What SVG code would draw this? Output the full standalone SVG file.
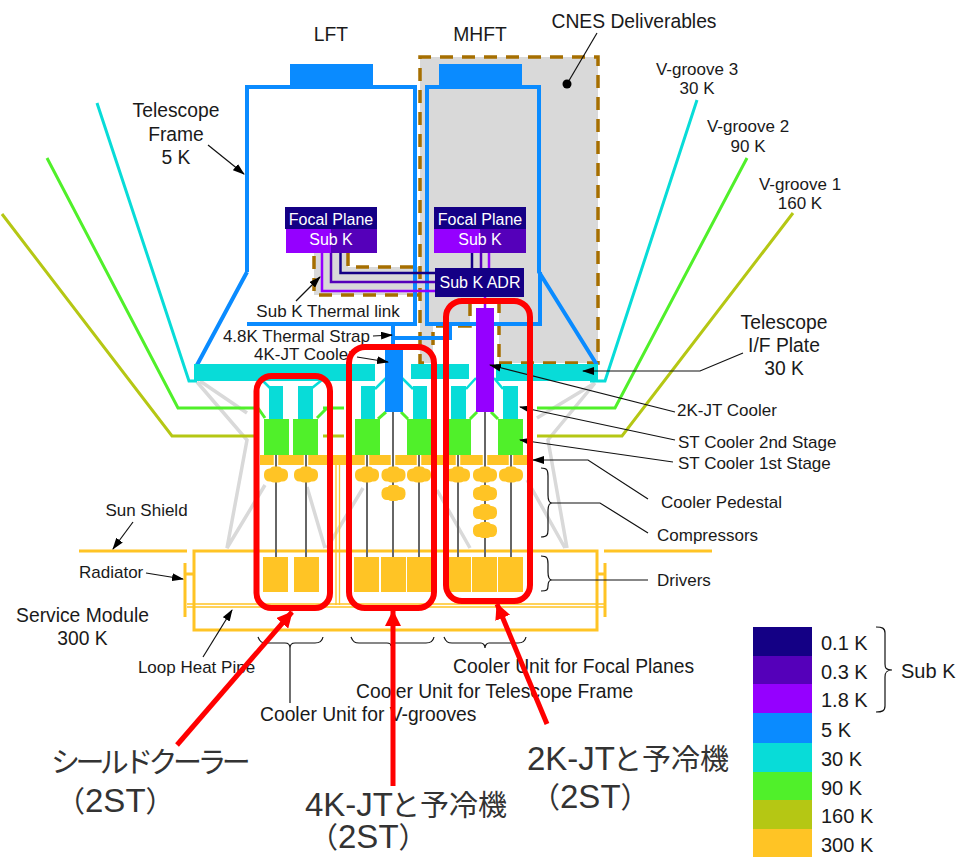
<svg xmlns="http://www.w3.org/2000/svg" xmlns:xlink="http://www.w3.org/1999/xlink" width="957" height="857" viewBox="0 0 957 857">
<style>
text{font-family:"Liberation Sans",Arial,sans-serif;fill:#1a1a1a;font-size:17px}
.m{text-anchor:middle}
.w{fill:#fff;font-size:16px}
.big{font-size:19.300px}
.leg{font-size:20px}
.jp{font-family:"Liberation Sans","Noto Sans CJK JP",sans-serif;font-size:33px;fill:#333}
.k{font-family:"Noto Sans CJK JP",sans-serif;font-size:29px;fill:#333}
.kana{letter-spacing:-4.600px}
.st{fill:none;stroke:#d9d9d9;stroke-width:3.500}
.dash{fill:none;stroke:#a66f00;stroke-width:3.500;stroke-dasharray:13 9}
.fr{fill:none;stroke:#0a8bff;stroke-width:4}
.v3{fill:none;stroke:#08dcd8;stroke-width:3}
.v2{fill:none;stroke:#50f02a;stroke-width:3}
.v1{fill:none;stroke:#b5c714;stroke-width:3}
.y{fill:none;stroke:#ffc425;stroke-width:3}
.yt{fill:none;stroke:#ffc425;stroke-width:1.300}
.case{fill:none;stroke:#fff;stroke-width:4.500}
.rod{fill:none;stroke:#666;stroke-width:2}
.dc{fill:none;stroke:#08dcd8;stroke-width:2.500}
.dg{fill:none;stroke:#50f02a;stroke-width:3}
.a{fill:none;stroke:#111;stroke-width:1.200;marker-end:url(#ah)}
.l{fill:none;stroke:#111;stroke-width:1.200}
.red{fill:none;stroke:#f00;stroke-width:6}
.ra{fill:none;stroke:#f00;stroke-width:5;marker-end:url(#rh)}
.c0{fill:#140085}.c1{fill:#5500ba}.c2{fill:#9500ff}.c3{fill:#0a8bff}.c4{fill:#08dcd8}.c5{fill:#50f02a}.c6{fill:#b5c714}.c7{fill:#ffc425}
</style>
<defs>
<marker id="ah" markerWidth="12" markerHeight="8" refX="11" refY="4" orient="auto" markerUnits="userSpaceOnUse"><path d="M0,0L12,4L0,8Z" fill="#000"/></marker>
<marker id="rh" markerWidth="16" markerHeight="16" refX="15" refY="8" orient="auto" markerUnits="userSpaceOnUse"><path d="M0,0L16,8L0,16Z" fill="#f00"/></marker>
<g id="comp"><rect x="-12" y="-6" width="24" height="13" rx="5.500" class="c7"/><rect x="-6" y="-8" width="12" height="16" rx="4" class="c7"/></g>
</defs>

<g id="cnes-area">
<path d="M420,57H598V363H499V300H470V326H433V363H420V295H314V253H348V267H420Z" fill="#d9d9d9"/>
<path class="dash" d="M499,363H598V57H420V363H429"/>
<path class="dash" d="M433,345V326H470V300M499,300V363"/>
<path class="dash" d="M348,253V267H416M420,295H314V253"/>
</g>

<g id="struts">
<path class="st" d="M200,381L247,413M197,382L247,440L227,548L265,485M307,487L325,548M363,488L327,548M437,490L470,548M527,480L565,548M595,383L537,418M595,383L548,440L567,548"/>
</g>

<g id="v-grooves">
<path class="v3" d="M97,103L189,381H197M697,100L605,381H590"/>
<path class="v2" d="M47,158L178,408H258M323,408H344M537,408H615L747,158"/>
<path class="v1" d="M2,214L172,436H254M323,436H344M537,436H622L793,213"/>
</g>

<g id="service-module">
<path class="y" d="M79,551H187M604,551H712"/>
<rect class="y" x="194" y="551" width="403" height="79"/>
<path class="y" d="M185,563V617M185,574H194M605,563V617M597,574H605"/>
<path class="yt" d="M187,604H604M187,607H604M336,465V605M339.500,465V605"/>
</g>

<g id="lft-telescope">
<rect class="c3" x="290" y="64" width="83" height="23"/>
<path class="fr" d="M247,272V87H415V324H247M247,272L197,365"/>
<path class="fr" d="M393,324V349M393,338H450V324"/>
</g>
<g id="mhft-telescope">
<rect class="c3" x="439" y="64" width="83" height="23"/>
<path class="fr" d="M540,272V324H427V87H539V272L597,365"/>
</g>

<g id="sub-k-links">
<path fill="none" stroke="#140085" stroke-width="2.500" d="M340.500,253V273H436M472,253V268"/>
<path fill="none" stroke="#5500ba" stroke-width="2.500" d="M331,253V282H436M481,253V268"/>
<path fill="none" stroke="#9500ff" stroke-width="2.500" d="M322,253V291H436M489,253V268M485,297V308"/>
</g>

<g id="focal-plane-lft">
<rect class="c0" x="285" y="207" width="92" height="22"/>
<rect class="c2" x="286" y="229" width="45" height="24"/><rect class="c1" x="331" y="229" width="46" height="24"/>
<text class="m w" x="331" y="225">Focal Plane</text><text class="m w" x="331" y="245">Sub K</text>
</g>
<g id="focal-plane-mhft">
<rect class="c0" x="434" y="207" width="92" height="22"/>
<rect class="c2" x="434" y="229" width="46" height="24"/><rect class="c1" x="480" y="229" width="46" height="24"/>
<text class="m w" x="480" y="225">Focal Plane</text><text class="m w" x="480" y="245">Sub K</text>
</g>
<g id="sub-k-adr">
<rect class="c0" x="435" y="268" width="89" height="29"/>
<text class="m w" x="480" y="288">Sub K ADR</text>
</g>

<g id="if-plate">
<rect class="c4" x="194" y="364" width="181" height="17"/>
<rect class="c4" x="411" y="364" width="58" height="15"/>
<rect class="c4" x="496" y="364" width="102" height="17"/>
</g>

<g id="pedestal">
<rect class="c7" x="260" y="455" width="267" height="10"/>
</g>

<g id="rods">
<path class="case" d="M276,455V466M306,455V466M367,455V466M393,455V466M419,455V466M458,455V466M485,455V466M511,455V466"/>
<path class="rod" d="M276,455V557M306,455V557M367,455V557M393,412V557M419,455V557M458,455V557M485,412V557M511,455V557"/>
</g>

<g id="cooler-v-grooves">
<path class="dc" d="M262,380L270,388M322,380L312,388"/>
<path class="dg" d="M258,408L265,418M327,408L317,418"/>
<rect class="c4" x="269" y="386" width="14" height="33"/><rect class="c4" x="298" y="386" width="15" height="33"/>
<rect class="c5" x="264" y="419" width="25" height="36"/><rect class="c5" x="293" y="419" width="25" height="36"/>
<use xlink:href="#comp" href="#comp" x="276" y="474.500"/><use xlink:href="#comp" href="#comp" x="306" y="474.500"/>
<rect class="c7" x="263" y="557" width="25" height="35"/><rect class="c7" x="294" y="557" width="25" height="35"/>
</g>
<g id="cooler-telescope-frame">
<path class="dc" d="M375,389L386,378M413,389L402,378"/>
<path class="dg" d="M378,419L386,412M408,419L401,412"/>
<rect class="c4" x="361" y="386" width="14" height="33"/><rect class="c4" x="413" y="386" width="14" height="33"/>
<rect class="c5" x="355" y="419" width="25" height="36"/><rect class="c5" x="407" y="419" width="24" height="36"/>
<rect class="c3" x="385" y="349" width="18" height="63"/>
<use xlink:href="#comp" href="#comp" x="367" y="474.500"/><use xlink:href="#comp" href="#comp" x="393.500" y="474.500"/><use xlink:href="#comp" href="#comp" x="419" y="474.500"/><use xlink:href="#comp" href="#comp" x="393.500" y="493"/>
<rect class="c7" x="354" y="557" width="25" height="35"/><rect class="c7" x="381" y="557" width="25" height="35"/><rect class="c7" x="407" y="557" width="24" height="35"/>
</g>
<g id="cooler-focal-planes">
<path class="dc" d="M466,389L476,378M503,389L494,378"/>
<path class="dg" d="M470,419L477,412M498,419L491,412"/>
<rect class="c4" x="451" y="386" width="15" height="33"/><rect class="c4" x="503" y="386" width="15" height="33"/>
<rect class="c5" x="448" y="419" width="23" height="36"/><rect class="c5" x="498" y="419" width="25" height="36"/>
<rect class="c2" x="476" y="308" width="18" height="104"/>
<use xlink:href="#comp" href="#comp" x="458" y="474.500"/><use xlink:href="#comp" href="#comp" x="485" y="474.500"/><use xlink:href="#comp" href="#comp" x="511" y="474.500"/><use xlink:href="#comp" href="#comp" x="485" y="493"/><use xlink:href="#comp" href="#comp" x="485" y="512"/><use xlink:href="#comp" href="#comp" x="485" y="530"/>
<rect class="c7" x="448" y="557" width="23" height="35"/><rect class="c7" x="472" y="557" width="25" height="35"/><rect class="c7" x="498" y="557" width="25" height="35"/>
</g>

<g id="labels">
<text class="m big" x="331" y="41">LFT</text>
<text class="m big" x="480" y="41">MHFT</text>
<text class="m big" x="634" y="28">CNES Deliverables</text>
<text class="m" x="697" y="75">V-groove 3</text><text class="m" x="697" y="94">30 K</text>
<text class="m" x="748" y="132">V-groove 2</text><text class="m" x="748" y="152">90 K</text>
<text class="m" x="800" y="190">V-groove 1</text><text class="m" x="800" y="209">160 K</text>
<text class="m big" x="176" y="117">Telescope</text><text class="m big" x="176" y="141">Frame</text><text class="m big" x="176" y="164">5 K</text>
<text class="m big" x="784" y="329">Telescope</text><text class="m big" x="784" y="352">I/F Plate</text><text class="m big" x="784" y="375">30 K</text>
<text class="m" x="328" y="317">Sub K Thermal link</text>
<text text-anchor="end" x="370" y="342">4.8K Thermal Strap</text>
<text x="254" y="360">4K-JT Cooler</text>
<text x="677" y="416">2K-JT Cooler</text>
<text x="678" y="448">ST Cooler 2nd Stage</text>
<text x="678" y="469">ST Cooler 1st Stage</text>
<text x="661" y="508">Cooler Pedestal</text>
<text x="657" y="541">Compressors</text>
<text x="657" y="586">Drivers</text>
<text class="m" x="146.500" y="516">Sun Shield</text>
<text x="79" y="578">Radiator</text>
<text class="m big" x="82.500" y="622">Service Module</text><text class="m big" x="82.500" y="645">300 K</text>
<text class="m" x="196.500" y="673">Loop Heat Pipe</text>
<text x="453" y="673" class="big">Cooler Unit for Focal Planes</text>
<text x="356" y="698" class="big">Cooler Unit for Telescope Frame</text>
<text x="260" y="721" class="big">Cooler Unit for V-grooves</text>
</g>

<g id="connectors">
<path class="l" d="M597,33L567,84"/><circle cx="567" cy="84" r="4.500" fill="#000"/>
<path class="a" d="M208,145L244,174"/>
<path class="a" d="M296,301L320,277"/>
<path class="a" d="M373,336L392,335"/>
<path class="a" d="M357,357L388,362"/>
<path class="a" d="M743,353L700,371H583"/>
<path class="a" d="M675,412L490,365"/>
<path class="a" d="M675,440L520,407"/>
<path class="a" d="M673,462L520,440"/>
<path class="a" d="M648,499L588,460H533"/>
<path class="l" d="M541,468C547,468 548,470 548,476V495C548,500 549,503 552,503H600L648,533M552,503C549,503 548,506 548,511V530C548,535 547,537 541,537"/>
<path class="l" d="M541,556C547,556 548,558 548,564V572C548,577 549,580 552,580H648M552,580C549,580 548,583 548,586V586C548,590 547,591 541,591"/>
<path class="a" d="M133,522L113,549"/>
<path class="a" d="M146,573L183,579"/>
<path class="a" d="M203,657L232,610"/>
<path class="l" d="M258,637C260,642 262,643 266,643H285C288,643 290,645 290,648V703M290,648C290,645 292,643 295,643H315C319,643 322,642 323,637"/>
<path class="l" d="M351,637C353,642 355,643 359,643H387C389,643 391,644 391,646C391,644 393,643 395,643H426C430,643 433,642 434,637"/>
<path class="l" d="M444,637C446,642 448,643 452,643H481C483,643 485,645 485,648C485,645 487,643 489,643H518C522,643 525,642 526,637"/>
</g>

<g id="highlights">
<rect class="red" x="256.500" y="376" width="73.500" height="232" rx="15"/>
<rect class="red" x="349" y="347" width="85" height="261" rx="16"/>
<rect class="red" x="446" y="301" width="84" height="300" rx="16"/>
<path class="ra" d="M177,745L292,612"/>
<path class="ra" d="M393,786V611"/>
<path class="ra" d="M547,724L497,604"/>
</g>

<g id="callouts">
<text class="k kana" x="51" y="773">シールドクーラー</text>
<text class="jp" x="56" y="812"><tspan class="k">（</tspan>2ST<tspan class="k">）</tspan></text>
<text class="jp" x="305" y="816">4K-JT<tspan class="k" dx="-2">と予冷機</tspan></text>
<text class="jp" x="309" y="848"><tspan class="k">（</tspan>2ST<tspan class="k">）</tspan></text>
<text class="jp" x="527" y="770">2K-JT<tspan class="k" dx="-2">と予冷機</tspan></text>
<text class="jp" x="531" y="808"><tspan class="k">（</tspan>2ST<tspan class="k">）</tspan></text>
</g>

<g id="legend">
<rect class="c0" x="753" y="627" width="59" height="29"/>
<rect class="c1" x="753" y="656" width="59" height="28"/>
<rect class="c2" x="753" y="684" width="59" height="29"/>
<rect class="c3" x="753" y="713" width="59" height="30"/>
<rect class="c4" x="753" y="743" width="59" height="29"/>
<rect class="c5" x="753" y="772" width="59" height="28"/>
<rect class="c6" x="753" y="800" width="59" height="29"/>
<rect class="c7" x="753" y="829" width="59" height="28"/>
<text class="leg" x="821" y="650">0.1 K</text>
<text class="leg" x="821" y="679">0.3 K</text>
<text class="leg" x="821" y="707">1.8 K</text>
<text class="leg" x="821" y="737">5 K</text>
<text class="leg" x="821" y="766">30 K</text>
<text class="leg" x="821" y="795">90 K</text>
<text class="leg" x="821" y="823">160 K</text>
<text class="leg" x="821" y="852">300 K</text>
<text class="leg" x="901" y="678">Sub K</text>
<path class="l" d="M876,627C882,627 885,628 885,633V664C885,668 886,670 892,670M892,670C886,670 885,673 885,677V706C885,711 882,712 876,712"/>
</g>
</svg>
